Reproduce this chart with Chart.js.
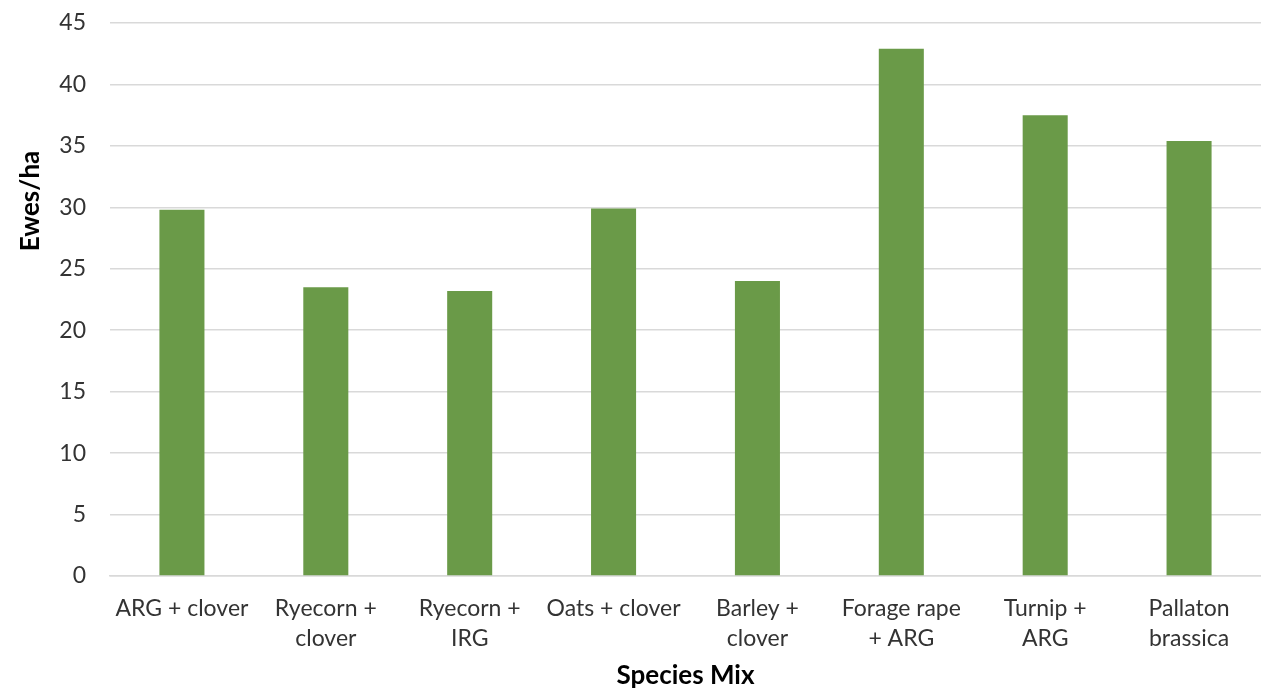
<!DOCTYPE html>
<html>
<head>
<meta charset="utf-8">
<script src="https://cdn.jsdelivr.net/npm/chart.js@4/dist/chart.umd.min.js"></script>
<style>
  html, body { margin: 0; padding: 0; background: #ffffff; }
  #wrap { width: 1261px; height: 688px; }
</style>
</head>
<body>
<div id="wrap"><canvas id="c" width="1261" height="688"></canvas></div>
<script>
// Grazing capacity by species mix
const categories = [
  ['ARG + clover'],
  ['Ryecorn +', 'clover'],
  ['Ryecorn +', 'IRG'],
  ['Oats + clover'],
  ['Barley +', 'clover'],
  ['Forage rape', '+ ARG'],
  ['Turnip +', 'ARG'],
  ['Pallaton', 'brassica']
];
const ewesPerHa = [29.8, 23.5, 23.2, 29.9, 24.0, 42.9, 37.5, 35.4];
const yTicks = [0, 5, 10, 15, 20, 25, 30, 35, 40, 45];
const yTitle = 'Ewes/ha';
const xTitle = 'Species Mix';

const FONT = 'Lato, "Open Sans", sans-serif';

// Axis titles drawn at fixed spots around the plot
const axisTitles = {
  id: 'axisTitles',
  afterDraw(chart) {
    const ctx = chart.ctx;
    ctx.save();
    ctx.fillStyle = '#000000';
    ctx.font = 'bold 26px ' + FONT;
    ctx.textAlign = 'center';
    ctx.textBaseline = 'middle';
    ctx.fillText(xTitle, (chart.chartArea.left + chart.chartArea.right) / 2, 676);
    ctx.translate(31, 201);
    ctx.rotate(-Math.PI / 2);
    ctx.fillText(yTitle, 0, 0);
    ctx.restore();
  }
};

new Chart(document.getElementById('c'), {
  type: 'bar',
  data: {
    labels: categories,
    datasets: [{
      data: ewesPerHa,
      backgroundColor: '#6A9A48',
      borderWidth: 0,
      categoryPercentage: 1,
      barPercentage: 0.313
    }]
  },
  options: {
    responsive: false,
    animation: false,
    devicePixelRatio: 1,
    layout: { padding: { top: 23, right: 0, left: 0, bottom: 0 } },
    plugins: { legend: { display: false }, tooltip: { enabled: false } },
    scales: {
      x: {
        grid: { display: false, drawTicks: false },
        border: { display: true, color: '#D9D9D9', width: 1.5 },
        ticks: {
          color: '#333333',
          font: { family: FONT, size: 23, lineHeight: 1.3 },
          padding: 18,
          maxRotation: 0,
          autoSkip: false
        },
        afterFit(scale) {
          scale.height = 112;
          scale.paddingRight = 0;
        }
      },
      y: {
        min: 0,
        max: 45,
        afterBuildTicks(scale) { scale.ticks = yTicks.map(v => ({ value: v })); },
        grid: { color: '#D9D9D9', lineWidth: 1.5, drawTicks: false },
        border: { display: false },
        ticks: {
          color: '#333333',
          font: { family: FONT, size: 23 },
          padding: 24
        },
        afterFit(scale) {
          scale.width = 110;
          scale.paddingTop = 12;
        }
      }
    }
  },
  plugins: [axisTitles]
});
</script>
</body>
</html>
